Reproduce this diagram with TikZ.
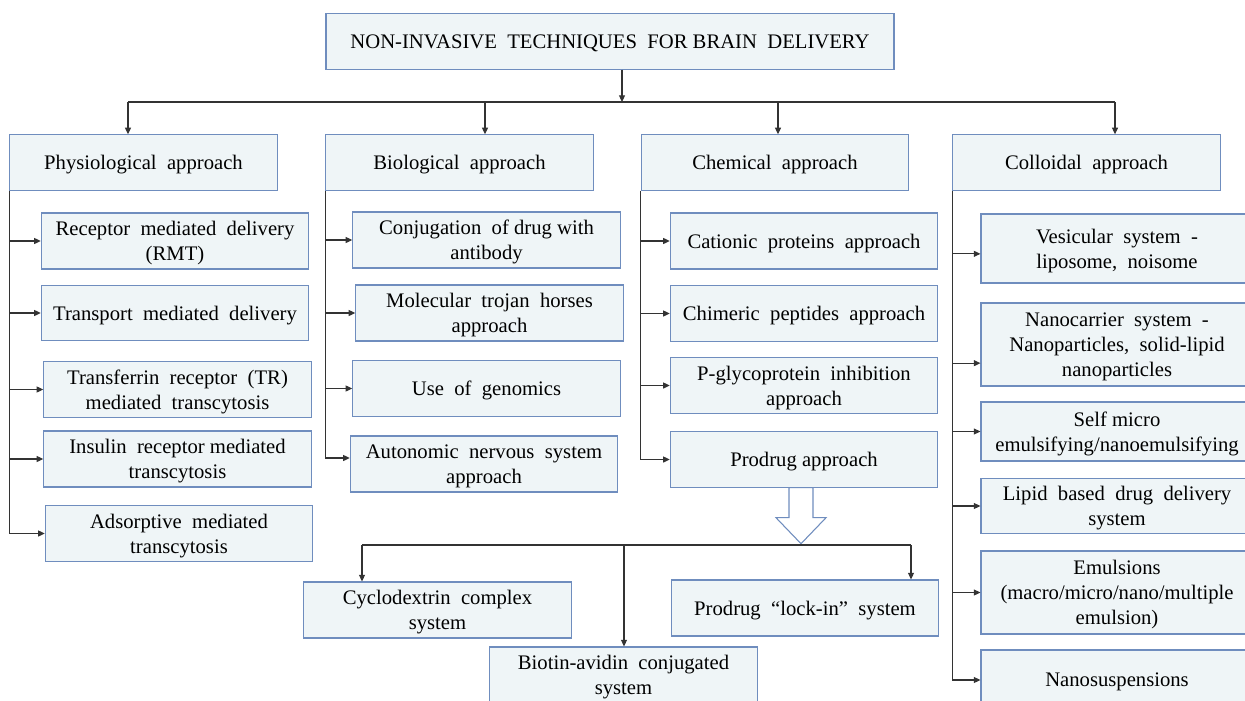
\documentclass[tikz,border=0pt]{standalone}
\usepackage{fontspec}
\setmainfont{Liberation Serif}
\usepackage{xcolor}
\usetikzlibrary{arrows.meta, positioning}

\definecolor{boxfill}{HTML}{EFF5F7}
\definecolor{boxline}{HTML}{6F8DBE}
\definecolor{wire}{HTML}{333333}

\begin{document}
\begin{tikzpicture}[
    x=0.75pt, y=-0.75pt,
    font=\fontsize{15.5}{18.75}\selectfont,
    box/.style={rectangle, draw=boxline, line width=0.8pt, fill=boxfill,
                align=center, inner sep=1pt, text depth=0pt,
                minimum width=200.5pt, minimum height=#1},
    box/.default=41.5pt,
    line/.style={draw=wire, line width=0.8pt},
    arr/.style={line, -{Triangle[length=5pt, width=4.5pt]}},
    hollow/.style={draw=boxline, line width=0.8pt, fill=white}
  ]
  \clip (0,0) rectangle (1245,700);

  % top level
  \node[box, minimum width=426pt] (title) at (610,41.5)
        {NON-INVASIVE\ \ TECHNIQUES\ \ FOR BRAIN\ \ DELIVERY};

  \node[box] (phys) at (143.5,162.5) {Physiological\ \ approach};
  \node[box] (bio)  at (459.5,162.5) {Biological\ \ approach};
  \node[box] (chem) at (775,162.5)   {Chemical\ \ approach};
  \node[box] (coll) at (1086.5,162.5) {Colloidal\ \ approach};

  % physiological
  \node[box=42pt] (r1) at (175,241)     {Receptor\ \ mediated\ \ delivery\\(RMT)};
  \node[box]      (r2) at (175,313)     {Transport\ \ mediated\ \ delivery};
  \node[box]      (r3) at (177.5,389.5) {Transferrin\ \ receptor\ \ (TR)\\mediated\ \ transcytosis};
  \node[box=42pt] (r4) at (177.5,459)   {Insulin\ \ receptor\ mediated\\transcytosis};
  \node[box]      (r5) at (179,533.5)   {Adsorptive\ \ mediated\\transcytosis};

  % biological
  \node[box=42pt] (b1) at (486.5,240)   {Conjugation\ \ of drug with\\antibody};
  \node[box=42pt] (b2) at (489.5,313)   {Molecular\ \ trojan\ \ horses\\approach};
  \node[box]      (b3) at (486.5,388.5) {Use\ \ of\ \ genomics};
  \node[box=42pt] (b4) at (484,464)     {Autonomic\ \ nervous\ \ system\\approach};

  % chemical
  \node[box=42pt] (c1) at (804,241)     {Cationic\ \ proteins\ \ approach};
  \node[box]      (c2) at (804,313.5)   {Chimeric\ \ peptides\ \ approach};
  \node[box]      (c3) at (804,385.5)   {P-glycoprotein\ \ inhibition\\approach};
  \node[box]      (c4) at (804,459.5)   {Prodrug approach};

  % colloidal
  \node[box=51.75pt, minimum width=204pt] (k1) at (1117,248.5)
        {Vesicular\ \ system\ \ -\\liposome,\ \ noisome};
  \node[box=62.25pt, minimum width=204pt] (k2) at (1117,344.5)
        {Nanocarrier\ \ system\ \ -\\Nanoparticles,\ \ solid-lipid\\nanoparticles};
  \node[box=44.25pt, minimum width=204pt] (k3) at (1117,431.5)
        {Self micro\\emulsifying/nanoemulsifying};
  \node[box, minimum width=204pt] (k4) at (1117,506)
        {Lipid\ \ based\ \ drug\ \ delivery\\system};
  \node[box=62.25pt, minimum width=204pt] (k5) at (1117,592.5)
        {Emulsions\\(macro/micro/nano/multiple\\emulsion)};
  \node[box=45pt, minimum width=204pt] (k6) at (1117,680)
        {Nanosuspensions};

  % prodrug branches
  \node[box=42pt] (cyc)  at (437.5,610) {Cyclodextrin\ \ complex\\system};
  \node[box=42pt] (lock) at (805,608)   {Prodrug\ \ “lock-in”\ \ system};
  \node[box=42pt] (avid) at (623.5,675) {Biotin-avidin\ \ conjugated\\system};

  % top bus
  \coordinate (tm) at (622,102);
  \coordinate (ta) at (128,102);
  \coordinate (tb) at (485,102);
  \coordinate (tc) at (778,102);
  \coordinate (td) at (1115,102);
  \draw[arr] (tm |- title.south) -- (tm);
  \draw[line] (ta) -- (td);
  \foreach \c/\n in {ta/phys, tb/bio, tc/chem, td/coll}
    \draw[arr] (\c) -- (\c |- \n.north);

  % trunks
  \draw[line] (phys.south west) -- (phys.south west |- r5.west);
  \foreach \n in {r1, r2, r3, r4, r5}
    \draw[arr] (phys.south west |- \n.west) -- (\n.west);

  \draw[line] (bio.south west) -- ([yshift=4.5pt]bio.south west |- b4.west);
  \foreach \n/\s in {b1/0pt, b2/0pt, b3/0pt, b4/4.5pt}
    \draw[arr] ([yshift=\s]bio.south west |- \n.west) -- ([yshift=\s]\n.west);

  \draw[line] (chem.south west) -- (chem.south west |- c4.west);
  \foreach \n in {c1, c2, c3, c4}
    \draw[arr] (chem.south west |- \n.west) -- (\n.west);

  \draw[line] (coll.south west) -- (coll.south west |- k6.west);
  \foreach \n/\s in {k1/-4pt, k2/-14pt, k3/0pt, k4/0pt, k5/0pt, k6/0pt}
    \draw[arr] ([yshift=\s]coll.south west |- \n.west) -- ([yshift=\s]\n.west);

  % hollow arrow below prodrug
  \coordinate (ha) at ([xshift=-2.25pt]c4.south);
  \draw[hollow] (ha) ++(-12,0) -- ++(0,30) -- ++(-13,0) -- ++(25,26)
        -- ++(25,-26) -- ++(-13,0) -- ++(0,-30) -- cycle;

  % lower bus
  \coordinate (la) at (362,545);
  \coordinate (lm) at (624,545);
  \coordinate (lr) at (911,545);
  \draw[line] (la) -- (lr);
  \foreach \c/\n in {la/cyc, lm/avid, lr/lock}
    \draw[arr] (\c) -- (\c |- \n.north);

\end{tikzpicture}
\end{document}
